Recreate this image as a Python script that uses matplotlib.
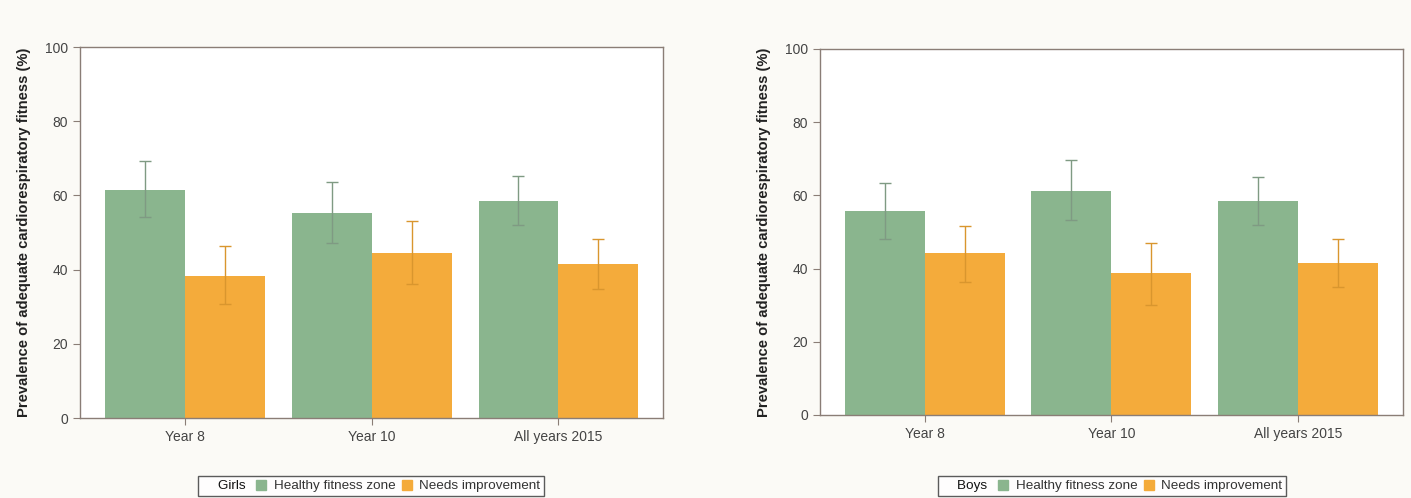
import numpy as np
import matplotlib.pyplot as plt
from matplotlib.lines import Line2D

plt.rcParams['font.family'] = ['Liberation Sans', 'DejaVu Sans']

groups = ["Year 8", "Year 10", "All years 2015"]
series = ["Healthy fitness zone", "Needs improvement"]

# girls: value, lower CI, upper CI
girls_healthy = [61.5, 55.3, 58.5]
girls_healthy_lo = [54.2, 47.1, 52.0]
girls_healthy_hi = [69.4, 63.7, 65.3]
girls_needs = [38.4, 44.4, 41.5]
girls_needs_lo = [30.7, 36.0, 34.8]
girls_needs_hi = [46.4, 53.1, 48.2]

# boys
boys_healthy = [55.7, 61.2, 58.5]
boys_healthy_lo = [48.0, 53.3, 51.9]
boys_healthy_hi = [63.3, 69.7, 64.9]
boys_needs = [44.2, 38.7, 41.4]
boys_needs_lo = [36.4, 30.1, 35.0]
boys_needs_hi = [51.6, 47.1, 48.0]

green = "#8ab58e"
orange = "#f4ab3b"
frame = "#8a7d76"

fig = plt.figure(figsize=(14.11, 4.98), dpi=100, facecolor="#fbfaf6")
ax1 = fig.add_axes([0.0567, 0.1606, 0.4133, 0.745])
ax2 = fig.add_axes([0.5811, 0.1667, 0.4132, 0.735])

def panel(ax, h, hlo, hhi, n, nlo, nhi, who, lx):
    x = np.arange(len(groups))
    w = 0.428
    h = np.array(h); n = np.array(n)
    ax.bar(x - w/2, h, w, color=green, zorder=2)
    ax.bar(x + w/2, n, w, color=orange, zorder=2)
    ax.errorbar(x - w/2, h, yerr=[h - np.array(hlo), np.array(hhi) - h],
                fmt="none", ecolor="#7f9a83", elinewidth=1, capsize=4, capthick=1, zorder=3)
    ax.errorbar(x + w/2, n, yerr=[n - np.array(nlo), np.array(nhi) - n],
                fmt="none", ecolor="#d9962e", elinewidth=1, capsize=4, capthick=1, zorder=3)
    ax.set_xlim(-0.56, 2.56)
    ax.set_ylim(0, 100)
    ax.set_yticks([0, 20, 40, 60, 80, 100])
    ax.set_xticks(x)
    ax.set_xticklabels(groups)
    ax.tick_params(colors=frame, labelcolor="#444444", labelsize=10, length=5)
    for s in ax.spines.values():
        s.set_color(frame)
        s.set_linewidth(1)
    ax.set_ylabel("Prevalence of adequate cardiorespiratory fitness (%)",
                  fontsize=10.6, fontweight="bold", color="#222222", labelpad=10)
    handles = [Line2D([], [], linestyle="none"),
               Line2D([], [], marker="s", color=green, linestyle="none", markersize=6.5),
               Line2D([], [], marker="s", color=orange, linestyle="none", markersize=6.5)]
    leg = fig.legend(handles, [who + " "] + series, loc="center",
                     bbox_to_anchor=(lx, 0.024),
                     ncol=3, frameon=True, fancybox=False, fontsize=9.7,
                     handlelength=0.5, handletextpad=0.7, columnspacing=0.6,
                     borderpad=0.25, borderaxespad=0, edgecolor="#333333")
    leg.get_frame().set_linewidth(1)
    for t in leg.get_texts():
        t.set_color("#333333")
    leg.get_texts()[0].set_color("#111111")

panel(ax1, girls_healthy, girls_healthy_lo, girls_healthy_hi,
      girls_needs, girls_needs_lo, girls_needs_hi, "Girls", 0.263)
panel(ax2, boys_healthy, boys_healthy_lo, boys_healthy_hi,
      boys_needs, boys_needs_lo, boys_needs_hi, "Boys", 0.788)

fig.savefig("out.png", dpi=100, facecolor=fig.get_facecolor())
